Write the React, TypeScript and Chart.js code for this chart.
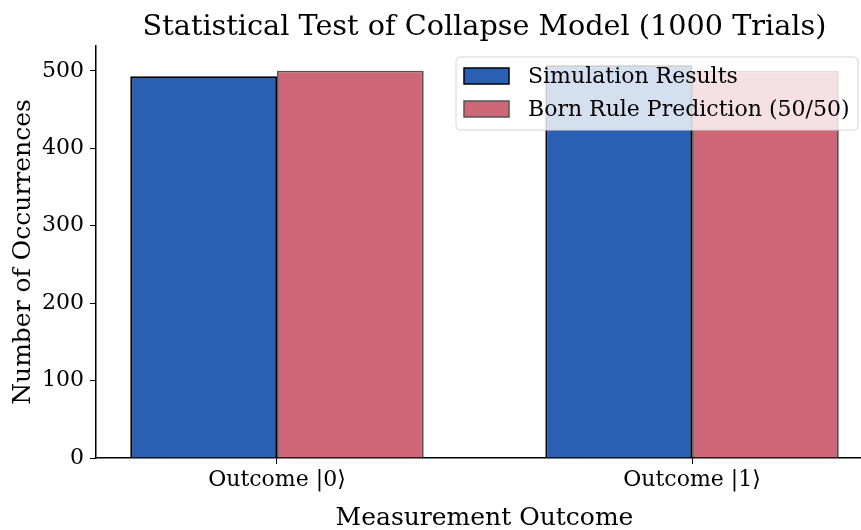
import React, { useEffect, useRef } from "react";
import { Chart, registerables } from "chart.js";

Chart.register(...registerables);

const categories = ["Outcome |0⟩", "Outcome |1⟩"];
const simulationCounts = [493, 507];
const bornCounts = [500, 500];
const yTicks = [0, 100, 200, 300, 400, 500];
const seriesNames = ["Simulation Results", "Born Rule Prediction (50/50)"];
const titleText = "Statistical Test of Collapse Model (1000 Trials)";
const xTitle = "Measurement Outcome";

const FONT = "'DejaVu Serif', serif";
const BLUE = "#2a5fb2";
const RED = "#cd6677";
const AXES_CENTER = 484.5;

const overlayPlugin = {
  id: "overlay",
  afterDraw(chart: any) {
    const ctx = chart.ctx;
    ctx.save();
    ctx.fillStyle = "#000";
    ctx.textAlign = "center";
    ctx.textBaseline = "middle";
    ctx.font = `28.7px ${FONT}`;
    ctx.fillText(titleText, AXES_CENTER, 28);
    ctx.font = `25px ${FONT}`;
    ctx.fillText(xTitle, AXES_CENTER, 518);
    ctx.restore();
  },
  afterDatasetsDraw(chart: any) {
    const ctx = chart.ctx;
    const x = 456, y = 57, w = 402, h = 73, r = 4;
    ctx.save();
    ctx.beginPath();
    ctx.moveTo(x + r, y);
    ctx.arcTo(x + w, y, x + w, y + h, r);
    ctx.arcTo(x + w, y + h, x, y + h, r);
    ctx.arcTo(x, y + h, x, y, r);
    ctx.arcTo(x, y, x + w, y, r);
    ctx.closePath();
    ctx.fillStyle = "rgba(255,255,255,0.8)";
    ctx.fill();
    ctx.strokeStyle = "#d6d6d6";
    ctx.lineWidth = 1;
    ctx.stroke();
    const items = [
      { fill: BLUE, edge: "#000", cy: 76 },
      { fill: RED, edge: "#555", cy: 109 },
    ];
    items.forEach((it, i) => {
      ctx.fillStyle = it.fill;
      ctx.fillRect(464, it.cy - 8, 45, 16);
      ctx.strokeStyle = it.edge;
      ctx.lineWidth = 1.5;
      ctx.strokeRect(464, it.cy - 8, 45, 16);
      ctx.fillStyle = "#000";
      ctx.font = `22px ${FONT}`;
      ctx.textBaseline = "middle";
      ctx.textAlign = "left";
      ctx.fillText(seriesNames[i], 528, it.cy + 1);
    });
    ctx.restore();
  },
};

export default function App() {
  const ref = useRef<HTMLCanvasElement>(null);
  useEffect(() => {
    if (!ref.current) return;
    const chart = new Chart(ref.current, {
      type: "bar",
      data: {
        datasets: [
          {
            label: seriesNames[0],
            data: simulationCounts.map((v, i) => ({ x: i, y: v })),
            backgroundColor: BLUE,
            borderColor: "#000",
            borderWidth: 1.8,
            categoryPercentage: 0.707,
            barPercentage: 1.0,
          },
          {
            label: seriesNames[1],
            data: bornCounts.map((v, i) => ({ x: i, y: v })),
            backgroundColor: RED,
            borderColor: "#555",
            borderWidth: 1.8,
            categoryPercentage: 0.707,
            barPercentage: 1.0,
          },
        ],
      },
      options: {
        animation: false,
        responsive: false,
        layout: { padding: { left: 0, right: 0, top: 46, bottom: 0 } },
        plugins: {
          legend: { display: false },
          tooltip: { enabled: false },
          title: { display: false },
        },
        scales: {
          x: {
            type: "linear",
            min: -0.436,
            max: 1.407,
            offset: false,
            afterBuildTicks: (s: any) => {
              s.ticks = categories.map((_, i) => ({ value: i }));
            },
            afterFit: (s: any) => {
              s.height = 72;
            },
            ticks: {
              callback: (v: any) => categories[v as number] ?? "",
              color: "#000",
              font: { family: FONT, size: 22 },
              padding: 3,
              maxRotation: 0,
            },
            grid: {
              display: true,
              offset: false,
              drawOnChartArea: false,
              drawTicks: true,
              tickLength: 6,
              color: "#000",
              lineWidth: 1,
            },
            border: { display: true, color: "#000", width: 1.5 },
            title: { display: false },
          },
          y: {
            type: "linear",
            min: 0,
            max: 532,
            afterBuildTicks: (s: any) => {
              s.ticks = yTicks.map((v) => ({ value: v }));
            },
            afterFit: (s: any) => {
              s.width = 96;
            },
            ticks: {
              color: "#000",
              font: { family: FONT, size: 22 },
              padding: 6,
            },
            grid: {
              display: true,
              offset: false,
              drawOnChartArea: false,
              drawTicks: true,
              tickLength: 6,
              color: "#000",
              lineWidth: 1,
            },
            border: { display: true, color: "#000", width: 1.5 },
            title: {
              display: true,
              text: "Number of Occurrences",
              color: "#000",
              font: { family: FONT, size: 25 },
              padding: { top: 8, bottom: 0 },
            },
          },
        },
      },
      plugins: [overlayPlugin],
    });
    return () => chart.destroy();
  }, []);
  return (
    <div style={{ position: "fixed", left: 0, top: 0, width: 861, height: 530, background: "#fff" }}>
      <canvas ref={ref} width={861} height={530} style={{ width: 861, height: 530 }} />
    </div>
  );
}
